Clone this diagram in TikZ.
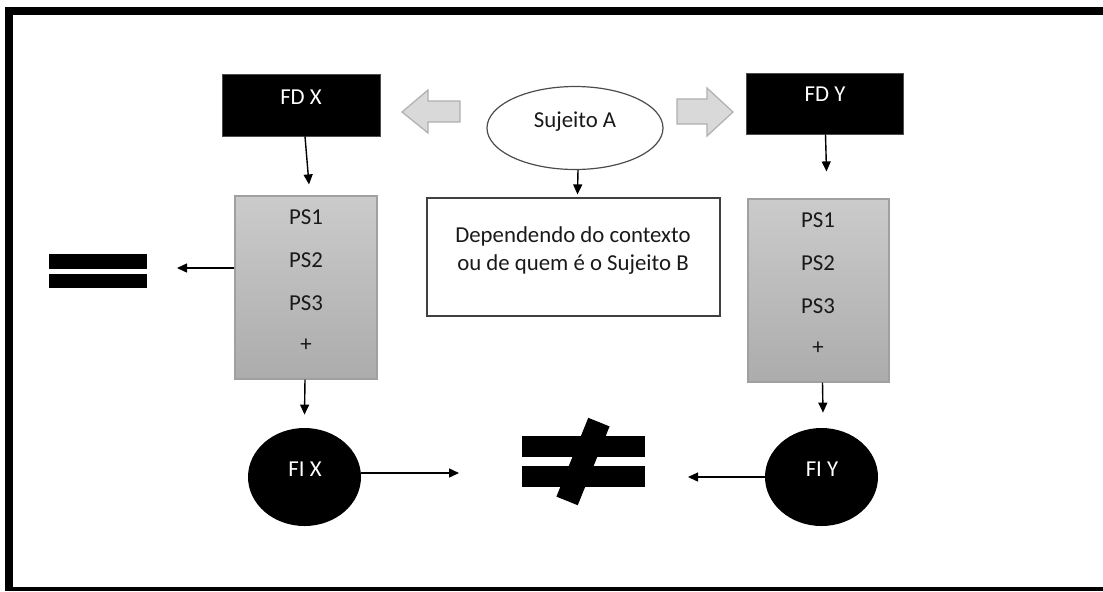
\documentclass[tikz,border=0pt]{standalone}
\usepackage{fontspec}
\setmainfont{Carlito}
\usepackage{tikz}
\usetikzlibrary{arrows.meta, shapes.geometric, calc}

\definecolor{psTop}{RGB}{203,203,203}
\definecolor{psBot}{RGB}{172,172,172}
\definecolor{psEdge}{RGB}{160,160,160}
\definecolor{blockFill}{RGB}{217,217,217}
\definecolor{blockEdge}{RGB}{175,175,175}

\tikzset{
    conn/.style={line width=0.7pt, -{Triangle[length=5pt,width=4.5pt]}},
    fdbox/.style={rectangle, fill=black, draw=black!70, minimum width=79pt, minimum height=31pt},
    psbox/.style={rectangle, top color=psTop, bottom color=psBot, draw=psEdge, line width=0.6pt, minimum width=71pt, minimum height=91.5pt},
    fibox/.style={ellipse, fill=black, minimum width=56.5pt, minimum height=49pt},
    txt/.style={font=\fontsize{11.4}{14}\selectfont, inner sep=0pt},
    blockarrow/.style={fill=blockFill, draw=blockEdge, line width=0.6pt}
}

\begin{document}
\begin{tikzpicture}[x=0.5pt, y=-0.5pt]
        \useasboundingbox (0,0) rectangle (1103,591);

        % frame (cut off at the right and bottom)
        \fill[black] (5,7) rectangle (1103,15);
        \fill[black] (5,7) rectangle (13,591);
        \fill[black] (5,587) rectangle (1103,591);

        % top row
        \node[fdbox] (fdx) at (301,105) {};
        \node[txt, white] (fdxlabel) at (301,97) {FD X};
        \node[fdbox, minimum width=78.5pt, minimum height=30.5pt] (fdy) at (824.5,103.5) {};
        \node[txt, white] (fdylabel) at (825,94) {FD Y};

        \node[ellipse, draw=black!70, line width=0.6pt, minimum width=88pt, minimum height=41.5pt] (suj) at (575,128) {};
        \node[txt, black!90] (sujlabel) at (575,122) {Sujeito A};

        % block arrows
        \filldraw[blockarrow] (460,101) -- (428,101) -- (428,90) -- (402,112) -- (428,133) -- (428,122) -- (460,122) -- cycle;
        \filldraw[blockarrow] (677,99) -- (707,99) -- (707,88) -- (733,112) -- (707,136) -- (707,124) -- (677,124) -- cycle;

        % middle
        \node[rectangle, draw=black!75, line width=0.6pt, minimum width=146.5pt, minimum height=59pt] (dep) at (573.5,257) {};
        \node[txt, black!90, align=center] (deplabel) at (573,251) {Dependendo do contexto\\ou de quem é o Sujeito B};

        \node[psbox] (psx) at (306,287.5) {};
        \node[psbox, minimum width=70.5pt] (psy) at (818.5,290.5) {};
        \foreach \t/\y [count=\i] in {PS1/217, PS2/260, PS3/303, +/345} {
            \node[txt, black!90] (psx\i) at (306,\y) {\t};
            \node[txt, black!90] (psy\i) at (818,\y+3) {\t};
        }

        % equals sign
        \fill[black] (49,254) rectangle (147,269);
        \fill[black] (49,274) rectangle (147,288);
        \coordinate (eqtip) at (177,268);

        % bottom row
        \node[fibox] (fix) at (304.5,477) {};
        \node[txt, white] (fixlabel) at (305,469) {FI X};
        \node[fibox] (fiy) at (821.5,477) {};
        \node[txt, white] (fiylabel) at (822,469) {FI Y};

        % not equal sign
        \fill[black] (522,436) rectangle (645,457);
        \fill[black] (522,466) rectangle (645,487);
        \node[fill=black, rotate=68, minimum width=42.5pt, minimum height=11.5pt, inner sep=0pt] (slash) at (583,461.5) {};
        \coordinate (neqleft) at (459,473);
        \coordinate (neqright) at (688,477);

        % connectors
        \draw[conn] ([xshift=2pt]fdx.south) -- ([xshift=1.5pt,yshift=5.5pt]psx.north);
        \draw[conn] ([xshift=0.5pt]fdy.south) -- ([xshift=4pt,yshift=13.5pt]psy.north);
        \draw[conn] ([xshift=1.5pt]suj.south) -- ([xshift=2pt,yshift=1.5pt]dep.north);
        \draw[conn] ([yshift=9.75pt]psx.west) -- (eqtip);
        \draw[conn] ([xshift=-0.5pt]psx.south) -- ([yshift=6.5pt]fix.north);
        \draw[conn] ([xshift=2pt]psy.south) -- ([xshift=0.75pt,yshift=7.5pt]fiy.north);
        \draw[conn] ([yshift=2pt]fix.east) -- (neqleft);
        \draw[conn] (fiy.west) -- (neqright);
    \end{tikzpicture}
\end{document}
